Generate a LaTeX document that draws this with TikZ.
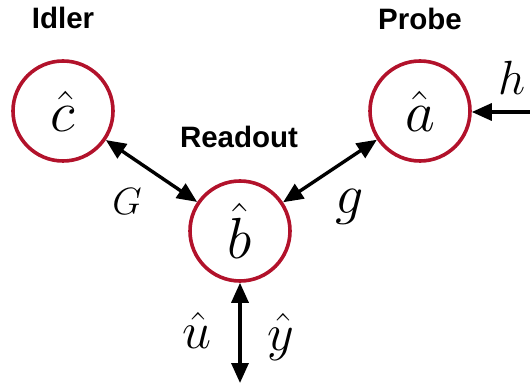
\RequirePackage{fix-cm}
\documentclass[tikz,border=0pt]{standalone}
\usepackage{fontspec}
\newfontfamily\labfont{Liberation Sans}
\usetikzlibrary{arrows.meta}
\definecolor{ring}{RGB}{178,18,43}
\begin{document}
\begin{tikzpicture}[x=1pt,y=-1pt,
  mode/.style={circle,draw=ring,line width=3.6pt,minimum size=100pt,inner sep=0pt,
    font=\fontsize{58}{62}\selectfont},
  title/.style={font=\labfont\bfseries\fontsize{29.5}{32}\selectfont},
  sym/.style={font=\fontsize{52}{56}\selectfont, inner sep=0pt},
  link/.style={line width=3.4pt,{Triangle[length=20pt,width=17pt]}-{Triangle[length=20pt,width=17pt]}},
  oneway/.style={line width=3.4pt,-{Triangle[length=20pt,width=17pt]}}]
\useasboundingbox (0,0) rectangle (530,387);
\node[mode] (c) at (63,111) {$\hat c$};
\node[mode] (a) at (420,111) {$\hat a$};
\node[mode] (b) at (240,231) {$\hat b$};
\node[title] (tc) at (63,18) {Idler};
\node[title] (ta) at (420,19) {Probe};
\node[title] (tb) at (239,137) {Readout};
\coordinate (hin) at (531,112);
\coordinate (out) at (240,383);
\draw[link] (c) -- (b);
\draw[link] (a) -- (b);
\draw[link] (b) -- (out);
\draw[oneway] (hin) -- (a.east |- hin);
\node[sym,font=\fontsize{38}{42}\selectfont] (G) at (127,202) {$G$};
\node[sym,font=\fontsize{56}{60}\selectfont] (g) at (350,207) {$g$};
\node[sym,font=\fontsize{48}{52}\selectfont] (h) at (512,78) {$h$};
\node[sym] (u) at (197,330) {$\hat u$};
\node[sym] (y) at (281,337) {$\hat y$};
\end{tikzpicture}
\end{document}
